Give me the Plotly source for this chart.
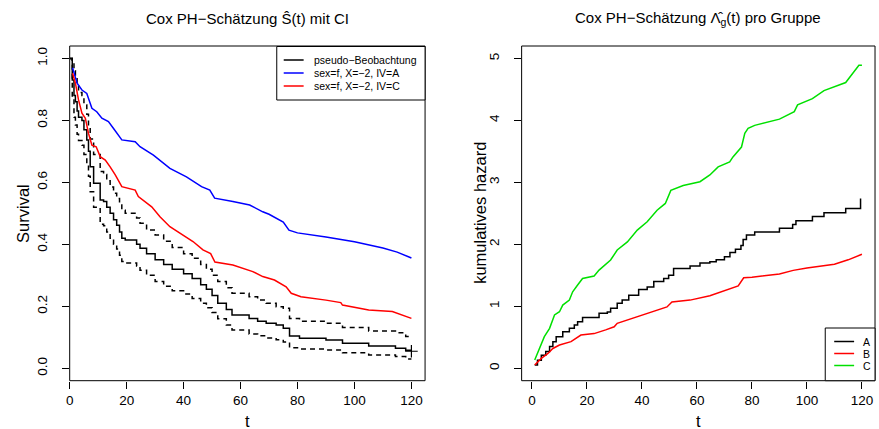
import plotly.graph_objects as go

W, H = 879, 429
FONT = "Liberation Sans, Arial, Helvetica, sans-serif"

# ---------------- left panel data ----------------
surv_t = [0, 0.9, 1.5, 2.0, 2.6, 3.1, 4.3, 5.0, 6.0, 6.6, 7.2, 8.4, 10.7, 11.9, 13.0, 14.2, 15.4, 16.5,
          17.5, 18.3, 19.5, 23.5, 24.7, 27, 30, 33, 36, 40, 43, 46, 48, 50, 52, 55, 57, 63, 66, 69, 72.5,
          75, 77.2, 80.7, 90, 95.8, 105, 114.4, 118, 120]
surv_s = [1.0, 0.93, 0.88, 0.86, 0.83, 0.81, 0.80, 0.77, 0.737, 0.70, 0.65, 0.597, 0.543, 0.538, 0.52,
          0.50, 0.479, 0.462, 0.44, 0.42, 0.414, 0.40, 0.387, 0.37, 0.35, 0.335, 0.32, 0.305, 0.29, 0.27,
          0.255, 0.235, 0.21, 0.19, 0.172, 0.161, 0.152, 0.145, 0.14, 0.129, 0.104, 0.097, 0.091, 0.081,
          0.072, 0.065, 0.058, 0.058]
surv_upper = [1.0, 0.99, 0.96, 0.94, 0.91, 0.89, 0.88, 0.85, 0.82, 0.78, 0.74, 0.69, 0.635, 0.625, 0.605,
              0.585, 0.565, 0.548, 0.527, 0.51, 0.50, 0.485, 0.468, 0.446, 0.43, 0.41, 0.39, 0.37, 0.355,
              0.335, 0.32, 0.30, 0.28, 0.26, 0.242, 0.231, 0.22, 0.21, 0.199, 0.194, 0.161, 0.152, 0.145,
              0.132, 0.12, 0.115, 0.103, 0.103]
surv_lower = [1.0, 0.87, 0.81, 0.785, 0.755, 0.735, 0.72, 0.69, 0.66, 0.62, 0.57, 0.52, 0.465, 0.46, 0.44,
              0.42, 0.40, 0.385, 0.365, 0.345, 0.34, 0.33, 0.316, 0.30, 0.28, 0.265, 0.25, 0.24, 0.225,
              0.21, 0.195, 0.18, 0.16, 0.14, 0.124, 0.111, 0.105, 0.098, 0.092, 0.085, 0.066, 0.062, 0.059,
              0.05, 0.043, 0.038, 0.03, 0.03]
censor_t = [120]
censor_s = [0.055]

blue_t = [1.0, 2.6, 4.3, 6.0, 7.8, 9.5, 11.3, 13.6, 15.4, 18.3, 23, 24.7, 29.4, 31.7, 35.2, 41, 46.3, 49.2,
          50.9, 57.3, 63.2, 67.8, 70, 75, 77, 80, 90, 100, 110, 115, 120]
blue_s = [0.97, 0.92, 0.898, 0.887, 0.839, 0.828, 0.807, 0.796, 0.774, 0.737, 0.731, 0.715, 0.688, 0.672,
          0.645, 0.618, 0.586, 0.575, 0.549, 0.538, 0.527, 0.505, 0.497, 0.472, 0.446, 0.437, 0.424, 0.408,
          0.388, 0.375, 0.356]

red_t = [1.0, 2.0, 3.1, 4.3, 5.5, 6.6, 7.8, 9.3, 10.7, 12.5, 14.2, 16, 18.3, 23, 24.1, 28.8, 31.7, 35.2,
         38.7, 43.3, 46.8, 49.5, 51, 57.3, 64.3, 67.8, 71.9, 76, 77.8, 81.2, 90, 95.2, 95.8, 105, 113.3, 120]
red_s = [0.952, 0.92, 0.866, 0.823, 0.807, 0.758, 0.72, 0.715, 0.683, 0.672, 0.65, 0.624, 0.586, 0.575,
         0.554, 0.521, 0.489, 0.457, 0.436, 0.409, 0.382, 0.37, 0.343, 0.333, 0.312, 0.296, 0.285, 0.263,
         0.242, 0.231, 0.22, 0.212, 0.204, 0.188, 0.183, 0.161]

left_legend_labels = ["pseudo\u2212Beobachtung", "sex=f, X=\u22122, IV=A", "sex=f, X=\u22122, IV=C"]
left_legend_colors = ["black", "blue", "red"]

# ---------------- right panel data ----------------
hazA_t = [1, 2, 3.4, 5, 6.4, 7.6, 8.8, 11.2, 13.6, 15.4, 16.6, 18.4, 24.4, 27.4, 28.6, 31, 32.8, 35.2, 38.8,
          41.9, 44.3, 47.9, 49.7, 51.5, 57.5, 61.1, 64.7, 67, 70, 72, 74, 76, 76.8, 78, 81, 90, 94.8, 96,
          102, 106.2, 114.1, 119.5]
hazA = [0.053, 0.13, 0.21, 0.27, 0.35, 0.43, 0.51, 0.59, 0.645, 0.70, 0.75, 0.82, 0.887, 0.91, 0.97, 1.05,
        1.10, 1.18, 1.27, 1.31, 1.40, 1.45, 1.50, 1.61, 1.65, 1.70, 1.72, 1.75, 1.80, 1.87, 1.92, 1.98, 2.08,
        2.15, 2.20, 2.26, 2.32, 2.38, 2.45, 2.51, 2.58, 2.74]

hazB_t = [1, 3.4, 5.8, 7.6, 10, 12.4, 14.2, 17.8, 22.6, 26.8, 29.9, 31, 34.7, 40.7, 45.5, 49.1, 50.9, 57.5,
          64.7, 70, 75, 77, 80, 90, 95, 100, 110, 115, 120]
hazB = [0.053, 0.16, 0.24, 0.32, 0.376, 0.40, 0.43, 0.537, 0.56, 0.62, 0.67, 0.726, 0.78, 0.86, 0.94, 0.99,
        1.07, 1.10, 1.17, 1.25, 1.33, 1.46, 1.47, 1.52, 1.58, 1.62, 1.68, 1.75, 1.84]

hazC_t = [1, 2.8, 4.5, 6.4, 8.2, 10, 11.2, 13.6, 14.8, 16.6, 18.4, 22.6, 24.4, 28.6, 31, 34.7, 38.3, 41.9,
          45.5, 48.5, 50.5, 55, 61.1, 64.7, 67.7, 71.9, 73.1, 76.2, 77.4, 78.6, 81, 90, 95.4, 96.6, 102,
          106.2, 114.1, 118.9, 120]
hazC = [0.134, 0.32, 0.51, 0.645, 0.86, 0.913, 1.02, 1.10, 1.235, 1.343, 1.45, 1.49, 1.585, 1.747, 1.908,
        2.04, 2.23, 2.365, 2.55, 2.66, 2.87, 2.95, 3.01, 3.12, 3.25, 3.33, 3.41, 3.57, 3.79, 3.87, 3.92, 4.02,
        4.14, 4.25, 4.35, 4.48, 4.61, 4.89, 4.89]

right_legend_labels = ["A", "B", "C"]
right_legend_colors = ["black", "red", "#00e000"]

x_ticks = [0, 20, 40, 60, 80, 100, 120]
left_y_ticks = [0.0, 0.2, 0.4, 0.6, 0.8, 1.0]
left_y_ticktext = ["0.0", "0.2", "0.4", "0.6", "0.8", "1.0"]
right_y_ticks = [0, 1, 2, 3, 4, 5]

# ---------------- figure ----------------
def px(x):
    return x / W

def py(y):
    return 1 - y / H

fig = go.Figure()
LW = 1.5
fig.add_trace(go.Scatter(x=surv_t, y=surv_upper, mode="lines", line=dict(color="black", width=LW, dash="5px,4px", shape="hv"), xaxis="x", yaxis="y"))
fig.add_trace(go.Scatter(x=surv_t, y=surv_lower, mode="lines", line=dict(color="black", width=LW, dash="5px,4px", shape="hv"), xaxis="x", yaxis="y"))
fig.add_trace(go.Scatter(x=surv_t, y=surv_s, mode="lines", line=dict(color="black", width=LW, shape="hv"), xaxis="x", yaxis="y"))
fig.add_trace(go.Scatter(x=censor_t, y=censor_s, mode="markers", marker=dict(symbol="cross-thin", size=9, line=dict(color="black", width=1.2)), xaxis="x", yaxis="y"))
fig.add_trace(go.Scatter(x=blue_t, y=blue_s, mode="lines", line=dict(color="blue", width=LW), xaxis="x", yaxis="y"))
fig.add_trace(go.Scatter(x=red_t, y=red_s, mode="lines", line=dict(color="red", width=LW), xaxis="x", yaxis="y"))

fig.add_trace(go.Scatter(x=hazC_t, y=hazC, mode="lines", line=dict(color="#00e000", width=LW), xaxis="x2", yaxis="y2"))
fig.add_trace(go.Scatter(x=hazA_t, y=hazA, mode="lines", line=dict(color="black", width=LW, shape="hv"), xaxis="x2", yaxis="y2"))
fig.add_trace(go.Scatter(x=hazB_t, y=hazB, mode="lines", line=dict(color="red", width=LW), xaxis="x2", yaxis="y2"))

ax_common = dict(showgrid=False, zeroline=False, showline=False, ticks="outside", ticklen=7,
                 tickwidth=1, tickcolor="black", tickfont=dict(family=FONT, size=13.5, color="black"))

y_top, y_bot = 46, 380.7
fig.update_layout(
    width=W, height=H, margin=dict(l=0, r=0, t=0, b=0),
    paper_bgcolor="white", plot_bgcolor="white", showlegend=False,
    font=dict(family=FONT, color="black"),
    xaxis=dict(domain=[px(66), px(423)], range=[0, 124.8], tickvals=x_ticks, anchor="y", **ax_common),
    yaxis=dict(domain=[py(y_bot), py(y_top)], range=[-0.04, 1.04], tickvals=left_y_ticks,
               ticktext=left_y_ticktext, tickangle=-90, anchor="x", ticklabelstandoff=9, **ax_common),
    xaxis2=dict(domain=[px(520), px(875)], range=[-3.76, 124.76], tickvals=x_ticks, anchor="y2", **ax_common),
    yaxis2=dict(domain=[py(y_bot), py(y_top)], range=[-0.2, 5.2], tickvals=right_y_ticks,
                tickangle=-90, anchor="x2", ticklabelstandoff=9, **ax_common),
)

shapes = []
for xr, yr in [("x domain", "y domain"), ("x2 domain", "y2 domain")]:
    shapes.append(dict(type="rect", xref=xr, yref=yr, x0=0, x1=1, y0=0, y1=1,
                       line=dict(color="black", width=1), layer="above"))

annotations = []
def text(x, y, s, size, angle=0, xanchor="center"):
    annotations.append(dict(x=px(x), y=py(y), xref="paper", yref="paper", text=s, showarrow=False,
                            font=dict(family=FONT, size=size, color="black"), textangle=angle,
                            xanchor=xanchor, yanchor="middle"))

text(245, 19, "Cox PH\u2212Sch\u00e4tzung \u015c(t) mit CI", 15)
text(697.5, 19, "Cox PH\u2212Sch\u00e4tzung \u039b\u0302<sub>g</sub>(t) pro Gruppe", 15)
text(244.5, 421, "t", 16.5)
text(697.5, 421, "t", 16.5)
text(19, 213, "Survival", 16.5, angle=-90)
text(478, 213, "kumulatives hazard", 16.5, angle=-90)

# legends (boxes, sample lines, labels)
def legend(x0, x1, y0, y1, rows_y, line_x0, line_x1, text_x, labels, colors):
    shapes.append(dict(type="rect", xref="paper", yref="paper", x0=px(x0), x1=px(x1), y0=py(y1), y1=py(y0),
                       line=dict(color="black", width=1), fillcolor="white", layer="above"))
    for ry, lab, col in zip(rows_y, labels, colors):
        shapes.append(dict(type="line", xref="paper", yref="paper", x0=px(line_x0), x1=px(line_x1),
                           y0=py(ry), y1=py(ry), line=dict(color=col, width=1.5), layer="above"))
        text(text_x, ry, lab, 10.5, xanchor="left")

legend(274, 423, 46.5, 100, [60, 73, 86], 281, 301, 309, left_legend_labels, left_legend_colors)
legend(825, 875, 328, 380.7, [341.5, 353.5, 365.5], 834, 854, 861, right_legend_labels, right_legend_colors)

fig.update_layout(shapes=shapes, annotations=annotations)
fig.write_html("out.html", config={"displayModeBar": False})

with open("out.html", encoding="utf-8") as f:
    html = f.read()
html = html.replace("<head>", "<head><style>html,body{margin:0;padding:0;overflow:hidden;}</style>", 1)
with open("out.html", "w", encoding="utf-8") as f:
    f.write(html)
